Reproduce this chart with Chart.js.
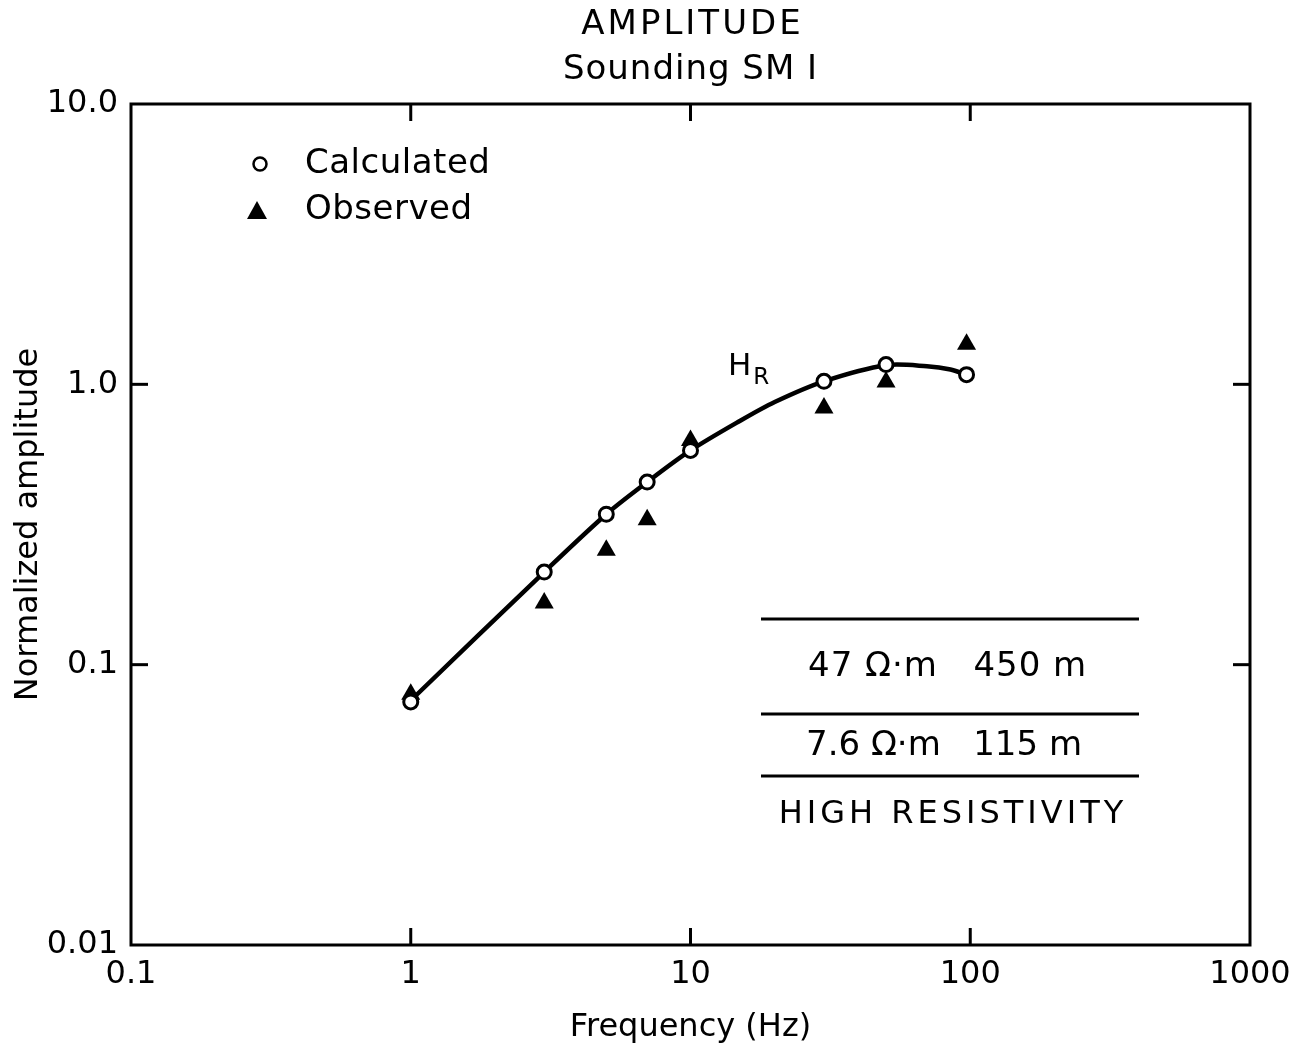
<!DOCTYPE html>
<html>
<head>
<meta charset="utf-8">
<script src="https://cdn.jsdelivr.net/npm/chart.js@4.4.0/dist/chart.umd.min.js"></script>
<style>
  html, body { margin: 0; padding: 0; background: #fff; }
  #wrap { width: 1310px; height: 1055px; }
</style>
</head>
<body>
<div id="wrap"><canvas id="amp-chart" width="1310" height="1055"></canvas></div>
<script>
// --- Data ---
const freqCalc = [1, 3, 5, 7, 10, 30, 50, 97];
const ampCalc = [0.0736, 0.214, 0.344, 0.448, 0.581, 1.025, 1.176, 1.083];

const freqObs = [1, 3, 5, 7, 10, 30, 50, 97];
const ampObs = [0.0785, 0.166, 0.256, 0.329, 0.63, 0.823, 1.02, 1.389];

// H_R model curve
const freqCurve = [1, 3, 5, 7, 10, 15, 20, 30, 50, 70, 85, 97];
const ampCurve = [0.0745, 0.214, 0.344, 0.448, 0.581, 0.74, 0.865, 1.025, 1.17, 1.16, 1.13, 1.083];

const xTicks = [0.1, 1, 10, 100, 1000];
const xTickLabels = ["0.1", "1", "10", "100", "1000"];
const yTicks = [0.01, 0.1, 1, 10];
const yTickLabels = ["0.01", "0.1", "1.0", "10.0"];

const FONT = "'DejaVu Sans', sans-serif";
const toPoints = (xs, ys) => xs.map((v, i) => ({ x: v, y: ys[i] }));

// frame, inward ticks, titles, legend and annotations
const decor = {
  id: "decor",
  afterDraw(chart) {
    const { ctx, chartArea: a, scales: { x, y } } = chart;
    ctx.save();
    ctx.strokeStyle = "#000";
    ctx.fillStyle = "#000";
    ctx.lineWidth = 3;
    ctx.lineCap = "butt";
    ctx.strokeRect(a.left, a.top, a.right - a.left, a.bottom - a.top);

    const seg = (x1, y1, x2, y2) => {
      ctx.beginPath();
      ctx.moveTo(x1, y1);
      ctx.lineTo(x2, y2);
      ctx.stroke();
    };
    const tl = 17;
    [1, 10, 100].forEach((v) => {
      const px = x.getPixelForValue(v);
      seg(px, a.bottom, px, a.bottom - tl);
      seg(px, a.top, px, a.top + tl);
    });
    [0.1, 1].forEach((v) => {
      const py = y.getPixelForValue(v);
      seg(a.left, py, a.left + tl, py);
      seg(a.right, py, a.right - tl, py);
    });

    // title
    const cx = (a.left + a.right) / 2;
    ctx.textAlign = "center";
    ctx.textBaseline = "middle";
    ctx.font = "34px " + FONT;
    ctx.letterSpacing = "3px";
    ctx.fillText("AMPLITUDE", cx + 2, 25);
    ctx.letterSpacing = "1px";
    ctx.fillText("Sounding SM I", cx, 70);
    ctx.letterSpacing = "0px";

    // legend
    ctx.lineWidth = 2.5;
    ctx.beginPath();
    ctx.arc(260, 164, 6.5, 0, Math.PI * 2);
    ctx.stroke();
    ctx.beginPath();
    ctx.moveTo(257, 201);
    ctx.lineTo(267, 219);
    ctx.lineTo(247, 219);
    ctx.closePath();
    ctx.fill();
    ctx.textAlign = "left";
    ctx.font = "34px " + FONT;
    ctx.letterSpacing = "0.5px";
    ctx.fillText("Calculated", 305, 164);
    ctx.fillText("Observed", 305, 210);
    ctx.letterSpacing = "0px";

    // H_R label
    ctx.textAlign = "center";
    ctx.font = "31px " + FONT;
    ctx.fillText("H", x.getPixelForValue(15), y.getPixelForValue(1.155));
    ctx.font = "23px " + FONT;
    ctx.fillText("R", x.getPixelForValue(17.9), y.getPixelForValue(1.055));

    // layer table
    ctx.lineWidth = 3;
    [619, 714, 776].forEach((py) => seg(761, py, 1139, py));
    ctx.textAlign = "left";
    ctx.font = "34px " + FONT;
    ctx.letterSpacing = "1px";
    ctx.fillText("47 \u03A9\u00B7m   450 m", 808, 667);
    ctx.letterSpacing = "0px";
    ctx.fillText("7.6 \u03A9\u00B7m   115 m", 806, 746);
    ctx.textAlign = "center";
    ctx.font = "32px " + FONT;
    ctx.letterSpacing = "4px";
    ctx.fillText("HIGH RESISTIVITY", 953, 815);
    ctx.restore();
  },
};

new Chart(document.getElementById("amp-chart"), {
  type: "scatter",
  data: {
    datasets: [
      {
        label: "Calculated",
        data: toPoints(freqCalc, ampCalc),
        pointStyle: "circle",
        pointRadius: 7,
        pointBorderWidth: 3,
        pointBackgroundColor: "#fff",
        pointBorderColor: "#000",
        order: 0,
      },
      {
        label: "Observed",
        data: toPoints(freqObs, ampObs),
        pointStyle: "triangle",
        pointRadius: 11,
        pointBorderWidth: 0,
        pointBackgroundColor: "#000",
        pointBorderColor: "#000",
        order: 1,
      },
      {
        label: "H_R",
        data: toPoints(freqCurve, ampCurve),
        showLine: true,
        borderColor: "#000",
        borderWidth: 4.5,
        pointRadius: 0,
        tension: 0.3,
        order: 2,
      },
    ],
  },
  options: {
    responsive: false,
    animation: false,
    layout: { padding: { top: 104, right: 60, left: 0, bottom: 0 } },
    scales: {
      x: {
        type: "logarithmic",
        min: 0.1,
        max: 1000,
        afterBuildTicks: (s) => { s.ticks = xTicks.map((v) => ({ value: v })); },
        afterFit: (s) => { s.height = 110; },
        ticks: {
          autoSkip: false,
          maxRotation: 0,
          padding: 10,
          color: "#000",
          font: { family: FONT, size: 32 },
          callback: (v, i) => xTickLabels[i],
        },
        grid: { display: false, drawTicks: false },
        border: { display: false },
        title: {
          display: true,
          text: "Frequency (Hz)",
          color: "#000",
          font: { family: FONT, size: 32 },
          padding: { top: 0, bottom: 8 },
        },
      },
      y: {
        type: "logarithmic",
        min: 0.01,
        max: 10,
        afterBuildTicks: (s) => { s.ticks = yTicks.map((v) => ({ value: v })); },
        afterFit: (s) => { s.width = 131; },
        ticks: {
          autoSkip: false,
          padding: 13,
          color: "#000",
          font: { family: FONT, size: 32 },
          callback: (v, i) => yTickLabels[i],
        },
        grid: { display: false, drawTicks: false },
        border: { display: false },
        title: {
          display: true,
          text: "Normalized amplitude",
          color: "#000",
          font: { family: FONT, size: 32 },
          padding: { top: 9, bottom: 0 },
        },
      },
    },
    plugins: {
      legend: { display: false },
      tooltip: { enabled: false },
    },
  },
  plugins: [decor],
});
</script>
</body>
</html>
